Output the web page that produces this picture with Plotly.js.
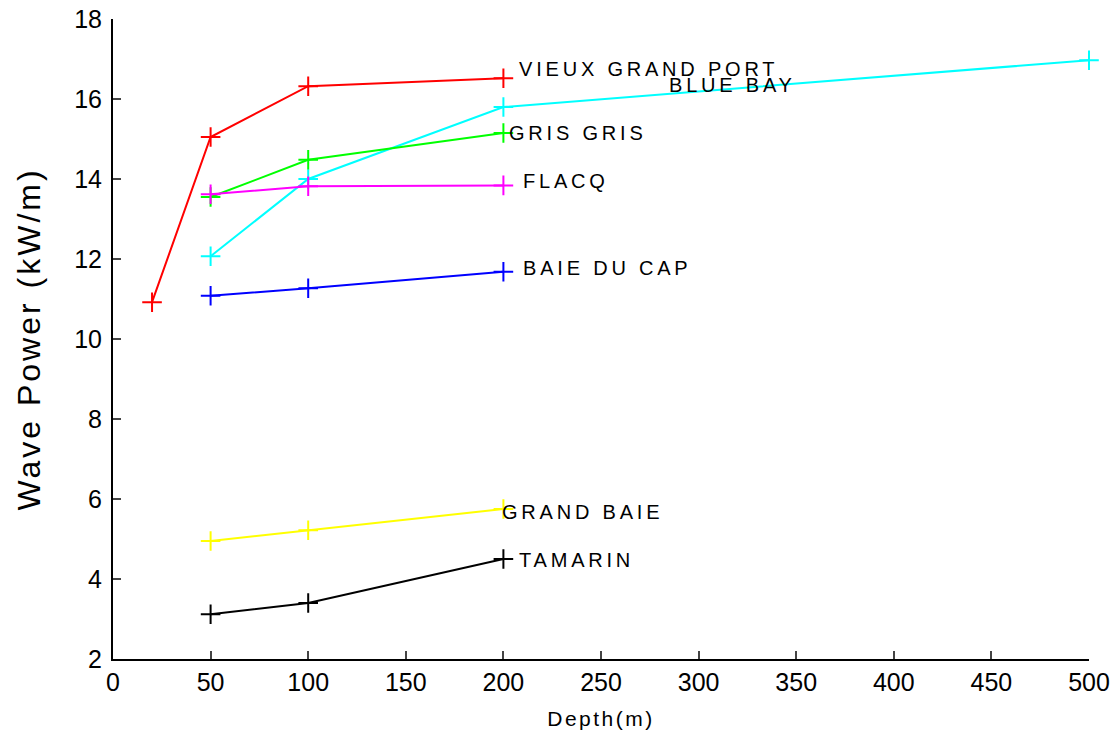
<!DOCTYPE html>
<html><head><meta charset="utf-8">
<script src="https://cdn.plot.ly/plotly-3.0.1.min.js"></script>
<style>
html,body{margin:0;padding:0;background:#fff}#chart{width:1114px;height:736px}
.annotation-text{letter-spacing:3.8px}
.xtitle{letter-spacing:2.5px}
.ytitle{letter-spacing:3px}
</style>
</head><body><div id="chart"></div>
<script>
const names = ["VIEUX GRAND PORT","BLUE BAY","GRIS GRIS","FLACQ","BAIE DU CAP","GRAND BAIE","TAMARIN"];
const colors = ["#ff0000","#00ffff","#00ff00","#ff00ff","#0000ff","#ffff00","#000000"];
const xVieux = [20,50,100,200];  const yVieux = [10.92,15.05,16.32,16.52];
const xBlue = [50,100,200,500];  const yBlue = [12.07,14.0,15.8,16.97];
const xGris = [50,100,200];      const yGris = [13.55,14.48,15.15];
const xFlacq = [50,100,200];     const yFlacq = [13.62,13.82,13.84];
const xBaie = [50,100,200];      const yBaie = [11.08,11.27,11.68];
const xGrand = [50,100,200];     const yGrand = [4.95,5.22,5.75];
const xTam = [50,100,200];       const yTam = [3.12,3.4,4.5];
const labelX = [207,284,202,209,209,198,207];
const labelY = [16.75,16.36,15.15,13.95,11.77,5.68,4.48];
const xTicks = [0,50,100,150,200,250,300,350,400,450,500];
const yTicks = [2,4,6,8,10,12,14,16,18];

const xs=[xVieux,xBlue,xGris,xFlacq,xBaie,xGrand,xTam];
const ys=[yVieux,yBlue,yGris,yFlacq,yBaie,yGrand,yTam];
const traces = names.map((n,i)=>({x:xs[i],y:ys[i],name:n,type:'scatter',mode:'lines+markers',
  line:{color:colors[i],width:2},marker:{symbol:'cross-thin',size:14,line:{color:colors[i],width:2}},cliponaxis:false}));
const annotations = names.map((n,i)=>({x:labelX[i],y:labelY[i],xref:'x',yref:'y',text:n,showarrow:false,
  xanchor:'left',yanchor:'middle',font:{family:'Liberation Sans, Arial, sans-serif',size:20,color:'#000'}}));
const layout = {
  width:1114,height:736,margin:{l:113,r:25,t:19,b:77},showlegend:false,
  paper_bgcolor:'#fff',plot_bgcolor:'#fff',
  font:{family:'Liberation Sans, Arial, sans-serif',color:'#000'},
  xaxis:{range:[0,500],tickvals:xTicks,ticktext:xTicks.map(String),ticks:'inside',ticklen:8,tickwidth:2,
    showline:true,linewidth:2,linecolor:'#000',showgrid:false,zeroline:false,tickfont:{size:25},
    title:{text:'Depth(m)',font:{size:21},standoff:16}},
  yaxis:{range:[2,18],tickvals:yTicks,ticktext:yTicks.map(String),ticks:'inside',ticklen:8,tickwidth:2,
    showline:true,linewidth:2,linecolor:'#000',showgrid:false,zeroline:false,tickfont:{size:25},
    ticklabelstandoff:4,
    title:{text:'Wave Power (kW/m)',font:{size:32},standoff:24}},
  annotations:annotations
};
Plotly.newPlot('chart',traces,layout,{displayModeBar:false,staticPlot:true});
</script></body></html>
